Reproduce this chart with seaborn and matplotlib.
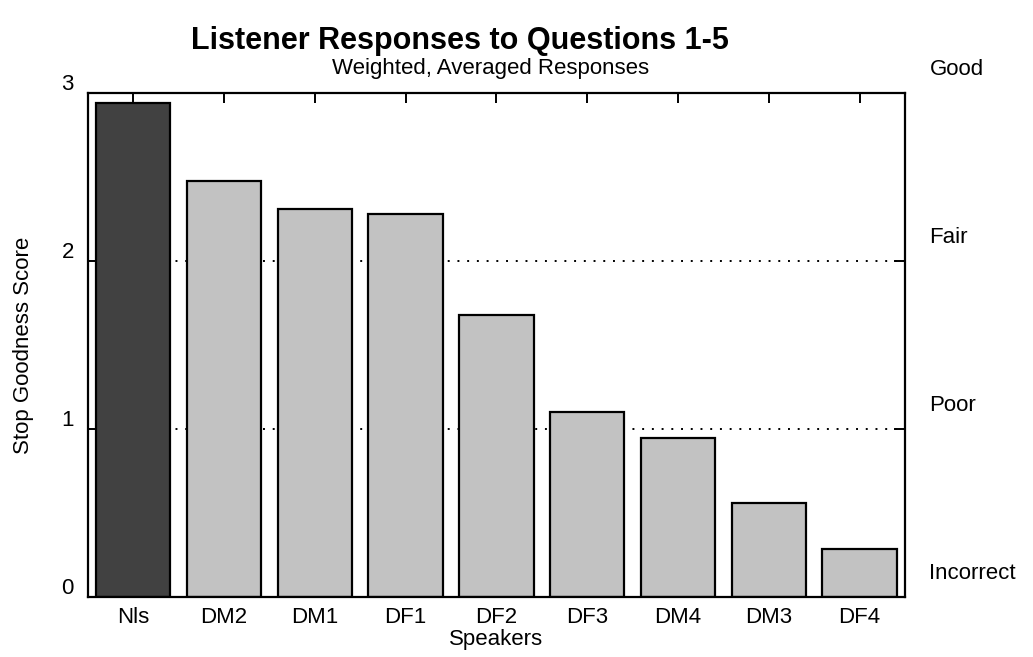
import matplotlib
matplotlib.use("Agg")
import matplotlib.pyplot as plt
import matplotlib.transforms as mtransforms
import seaborn as sns
import pandas as pd

# -------------------------
# DATA
# -------------------------
speakers = ["Nls", "DM2", "DM1", "DF1", "DF2", "DF3", "DM4", "DM3", "DF4"]
scores = [2.94, 2.48, 2.31, 2.28, 1.68, 1.10, 0.95, 0.56, 0.29]
bar_colors = ["#414141"] + ["#c2c2c2"] * 8
y_ticks = [0, 1, 2, 3]
rating_levels = [3, 2, 1, 0]
rating_labels = ["Good", "Fair", "Poor", "Incorrect"]
ref_lines = [1, 2]

sns.set_style("ticks")
plt.rcParams["font.family"] = ["Liberation Sans", "DejaVu Sans"]
plt.rcParams["text.color"] = "black"
plt.rcParams["axes.labelcolor"] = "black"
plt.rcParams["xtick.color"] = "black"
plt.rcParams["ytick.color"] = "black"

df = pd.DataFrame({"Speaker": speakers, "Score": scores})

fig = plt.figure(figsize=(10.33, 6.57), dpi=100)
ax = fig.add_axes([0.085, 0.091, 0.791, 0.767])

# dotted reference lines behind the bars
for r in ref_lines:
    ax.axhline(r, color="black", ls=(0, (1, 4)), lw=1.4, zorder=0)

sns.barplot(data=df, x="Speaker", y="Score", hue="Speaker",
            palette=bar_colors, legend=False, width=0.82,
            edgecolor="black", linewidth=1.6, saturation=1, ax=ax, zorder=2)

ax.set_xlim(-0.5, len(speakers) - 0.5)
ax.set_ylim(0, 3)
ax.set_yticks(y_ticks)
for sp in ax.spines.values():
    sp.set_visible(True)
    sp.set_linewidth(1.6)
    sp.set_color("black")

ax.tick_params(axis="x", bottom=False, top=True, direction="in", length=7,
               width=1.4, labelsize=16, pad=7)
ax.tick_params(axis="y", left=True, right=True, direction="in", length=8,
               width=1.4, labelsize=16, pad=10)

# tick numbers sit a little above their level
off = mtransforms.ScaledTranslation(0, 8 / 72, fig.dpi_scale_trans)
for lab in ax.get_yticklabels():
    lab.set_transform(lab.get_transform() + off)

ax.set_xlabel("Speakers", fontsize=16, labelpad=1)
ax.set_ylabel("Stop Goodness Score", fontsize=16, labelpad=20)

# rating words on the right
trans = mtransforms.blended_transform_factory(ax.transAxes, ax.transData)
for lv, txt in zip(rating_levels, rating_labels):
    ax.text(1.03, lv + 0.08, txt, transform=trans, fontsize=16,
            ha="left", va="bottom")

fig.text(0.445, 0.937, "Listener Responses to Questions 1-5",
         fontsize=22, fontweight="bold", ha="center", va="center")
fig.text(0.475, 0.895, "Weighted, Averaged Responses",
         fontsize=16, ha="center", va="center")

fig.savefig("out.png", dpi=100)
